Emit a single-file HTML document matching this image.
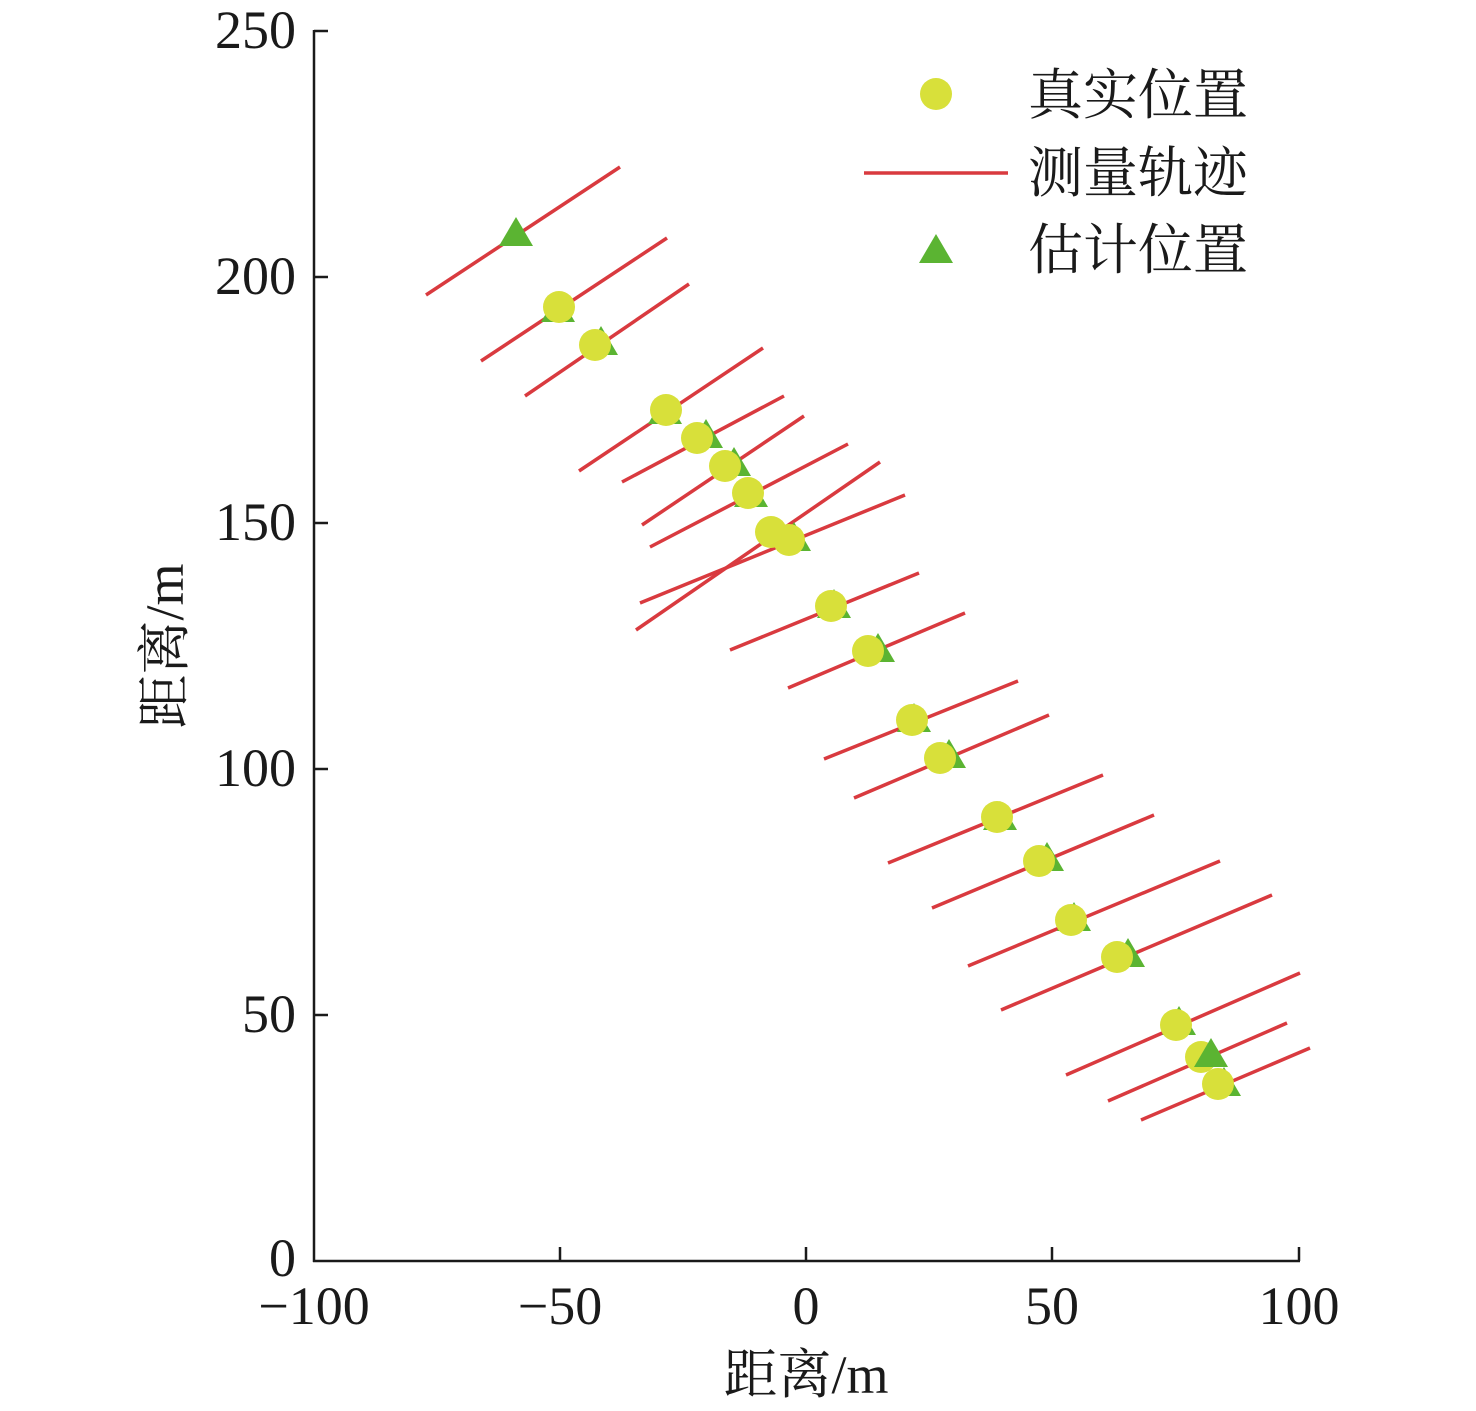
<!DOCTYPE html>
<html><head><meta charset="utf-8"><style>
html,body{margin:0;padding:0;background:#fff;}
svg{display:block;}
text{font-family:"Liberation Serif","Noto Serif CJK SC",serif;fill:#1a1a1a;}
</style></head><body>
<svg width="1476" height="1411" viewBox="0 0 1476 1411" xmlns="http://www.w3.org/2000/svg">
<g stroke="#1a1a1a" stroke-width="2.5" fill="none">
<line x1="314" y1="30" x2="314" y2="1262"/>
<line x1="313" y1="1261" x2="1300" y2="1261"/>
<line x1="314" y1="31" x2="328" y2="31"/>
<line x1="314" y1="277" x2="328" y2="277"/>
<line x1="314" y1="523" x2="328" y2="523"/>
<line x1="314" y1="769" x2="328" y2="769"/>
<line x1="314" y1="1015" x2="328" y2="1015"/>
<line x1="560" y1="1261" x2="560" y2="1247"/>
<line x1="806" y1="1261" x2="806" y2="1247"/>
<line x1="1052" y1="1261" x2="1052" y2="1247"/>
<line x1="1299" y1="1261" x2="1299" y2="1247"/>
</g>
<g font-size="54" text-anchor="end">
<text x="296" y="48">250</text>
<text x="296" y="294">200</text>
<text x="296" y="540">150</text>
<text x="296" y="786">100</text>
<text x="296" y="1032">50</text>
<text x="296" y="1276">0</text>
</g>
<g font-size="54" text-anchor="middle">
<text x="314" y="1324">−100</text>
<text x="560" y="1324">−50</text>
<text x="806" y="1324">0</text>
<text x="1052" y="1324">50</text>
<text x="1299" y="1324">100</text>
</g>
<text x="806" y="1393" font-size="54" text-anchor="middle">距离/m</text>
<text transform="translate(183,646) rotate(-90)" font-size="54" text-anchor="middle">距离/m</text>
<g stroke="#d93a3f" stroke-width="3.5">
<line x1="426" y1="295" x2="620" y2="167"/>
<line x1="481" y1="361" x2="667" y2="238"/>
<line x1="525" y1="396" x2="689" y2="284"/>
<line x1="579" y1="471" x2="763" y2="348"/>
<line x1="622" y1="482" x2="784" y2="396"/>
<line x1="642" y1="525" x2="804" y2="416"/>
<line x1="650" y1="547" x2="848" y2="444"/>
<line x1="636" y1="630" x2="880" y2="462"/>
<line x1="640" y1="603" x2="905" y2="495"/>
<line x1="730" y1="650" x2="919" y2="573"/>
<line x1="788" y1="688" x2="965" y2="613"/>
<line x1="824" y1="759" x2="1018" y2="681"/>
<line x1="854" y1="798" x2="1049" y2="715"/>
<line x1="888" y1="863" x2="1103" y2="775"/>
<line x1="932" y1="908" x2="1154" y2="815"/>
<line x1="968" y1="966" x2="1220" y2="861"/>
<line x1="1001" y1="1010" x2="1272" y2="895"/>
<line x1="1066" y1="1075" x2="1300" y2="973"/>
<line x1="1108" y1="1101" x2="1287" y2="1023"/>
<line x1="1141" y1="1120" x2="1310" y2="1048"/>
</g>
<defs><path id="t" d="M0,-17 L17,12 L-17,12 Z" fill="#5bb432"/></defs>
<g>
<use href="#t" x="516" y="234"/>
<use href="#t" x="558" y="310"/>
<use href="#t" x="601" y="343"/>
<use href="#t" x="665" y="412"/>
<use href="#t" x="706" y="436"/>
<use href="#t" x="734" y="464"/>
<use href="#t" x="751" y="495"/>
<use href="#t" x="794" y="539"/>
<use href="#t" x="834" y="606"/>
<use href="#t" x="878" y="650"/>
<use href="#t" x="914" y="720"/>
<use href="#t" x="949" y="756"/>
<use href="#t" x="1000" y="818"/>
<use href="#t" x="1047" y="859"/>
<use href="#t" x="1074" y="919"/>
<use href="#t" x="1128" y="955"/>
<use href="#t" x="1179" y="1023"/>
<use href="#t" x="1224" y="1084"/>
</g>
<g fill="#d8e03a">
<circle cx="559" cy="307" r="16"/>
<circle cx="595" cy="345" r="16"/>
<circle cx="666" cy="410" r="16"/>
<circle cx="697" cy="438" r="16"/>
<circle cx="725" cy="466" r="16"/>
<circle cx="748" cy="493" r="16"/>
<circle cx="771" cy="532" r="16"/>
<circle cx="789" cy="540" r="16"/>
<circle cx="831" cy="606" r="16"/>
<circle cx="868" cy="651" r="16"/>
<circle cx="912" cy="720" r="16"/>
<circle cx="940" cy="758" r="16"/>
<circle cx="997" cy="817" r="16"/>
<circle cx="1039" cy="861" r="16"/>
<circle cx="1071" cy="920" r="16"/>
<circle cx="1117" cy="957" r="16"/>
<circle cx="1176" cy="1025" r="16"/>
<circle cx="1201" cy="1057" r="16"/>
<circle cx="1218" cy="1084" r="16"/>
</g>
<use href="#t" x="1211" y="1055"/>
<circle cx="936" cy="94" r="16" fill="#d8e03a"/>
<line x1="864" y1="173" x2="1008" y2="173" stroke="#d93a3f" stroke-width="3.5"/>
<use href="#t" x="936" y="251"/>
<g font-size="55">
<text x="1028" y="114">真实位置</text>
<text x="1028" y="192">测量轨迹</text>
<text x="1028" y="269">估计位置</text>
</g>
</svg>
</body></html>
